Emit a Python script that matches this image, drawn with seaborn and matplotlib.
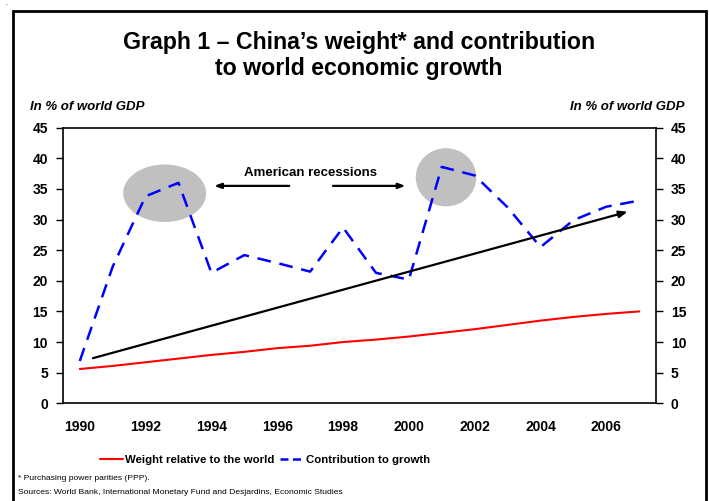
import numpy as np
import pandas as pd
import seaborn as sns
import matplotlib.pyplot as plt
from matplotlib import font_manager
from matplotlib.patches import Ellipse, Rectangle

years = list(range(1990, 2008))
weight = [5.6, 6.1, 6.7, 7.3, 7.9, 8.4, 9.0, 9.4, 10.0, 10.4, 10.9, 11.5, 12.1, 12.8, 13.5, 14.1, 14.6, 15.0]
contribution = [6.9, 22.3, 33.8, 36.0, 21.3, 24.2, 22.9, 21.5, 28.7, 21.3, 20.2, 38.6, 37.2, 32.0, 25.5, 29.9, 32.1, 33.1]
xticks = list(range(1990, 2007, 2))
yticks = list(range(0, 50, 5))

df = pd.DataFrame({"year": years, "weight": weight, "contribution": contribution})

sns.set_style("white")
names = {f.name for f in font_manager.fontManager.ttflist}
narrow = "Liberation Sans Narrow" if "Liberation Sans Narrow" in names else "Liberation Sans"
plt.rcParams["font.family"] = ["Liberation Sans", "DejaVu Sans"]
plt.rcParams.update({"text.color": "black", "xtick.color": "black",
                     "ytick.color": "black", "axes.labelcolor": "black"})

fig = plt.figure(figsize=(7.09, 5.01), dpi=100)
fig.patches.append(Rectangle((13 / 709, -0.05), (706 - 13) / 709, 1.05 - 11 / 501,
                             transform=fig.transFigure, fill=False, lw=2, ec="black"))
fig.text(5 / 709, 1 - 5 / 501, ".", fontsize=5)

ax = fig.add_axes([63.3 / 709, 1 - 403.3 / 501, (655.7 - 63.3) / 709, (403.3 - 127.7) / 501])

# recession shading
ax.add_patch(Ellipse((1992.58, 34.3), 2.52, 9.4, color="#c0c0c0", lw=0, zorder=1))
ax.add_patch(Ellipse((2001.13, 36.9), 1.84, 9.5, color="#c0c0c0", lw=0, zorder=1))

sns.lineplot(data=df, x="year", y="weight", ax=ax, color="red", lw=1.5,
             label="Weight relative to the world", zorder=3)
sns.lineplot(data=df, x="year", y="contribution", ax=ax, color="blue", lw=1.8,
             dashes=False, label="Contribution to growth", zorder=3)
ax.lines[1].set_dashes([5.5, 3.5])

# trend arrow
ax.annotate("", xy=(2006.73, 31.4), xytext=(1990.32, 7.25),
            arrowprops=dict(arrowstyle="-|>,head_length=0.5,head_width=0.2", color="black", lw=1.6),
            zorder=4)

ax.text(1997.0, 37.6, "American recessions", ha="center", va="center",
        fontsize=9.5, fontweight="bold")
ax.annotate("", xy=(1994.0, 35.5), xytext=(1996.45, 35.5),
            arrowprops=dict(arrowstyle="-|>,head_length=0.4,head_width=0.15", color="black", lw=1.6))
ax.annotate("", xy=(1999.98, 35.5), xytext=(1997.61, 35.5),
            arrowprops=dict(arrowstyle="-|>,head_length=0.4,head_width=0.15", color="black", lw=1.6))

ax.set_xlim(1989.5, 2007.5)
ax.set_ylim(0, 45)
ax.set_xticks(xticks)
ax.set_xticklabels([str(y) for y in xticks])
ax.set_yticks(yticks)
ax.set_xlabel("")
ax.set_ylabel("")
ax.tick_params(axis="x", length=0, pad=12, labelsize=10)
ax.tick_params(axis="y", length=5, width=1, direction="out", left=True, right=True,
               labelleft=True, labelright=True, labelsize=10, pad=6)
for lab in ax.get_xticklabels() + ax.get_yticklabels():
    lab.set_fontweight("bold")
for s in ax.spines.values():
    s.set_linewidth(1.2)
    s.set_color("black")

handles, labels = ax.get_legend_handles_labels()
ax.get_legend().remove()
leg = fig.legend(handles, labels, loc="center", bbox_to_anchor=(265 / 709, 1 - 460 / 501),
                 ncol=2, frameon=False, handlelength=2.0, columnspacing=0.5, handletextpad=0.2,
                 prop={"family": narrow, "weight": "bold", "size": 8.2})
leg.get_lines()[1].set_dashes([3.2, 1.8])

fig.text(359 / 709, 1 - 42 / 501, "Graph 1 \u2013 China\u2019s weight* and contribution",
         ha="center", va="center", fontsize=16.7, fontweight="bold")
fig.text(359 / 709, 1 - 69 / 501, "to world economic growth",
         ha="center", va="center", fontsize=16.7, fontweight="bold")
fig.text(30 / 709, 1 - 107 / 501, "In % of world GDP", ha="left", va="center",
         fontsize=9.5, fontweight="bold", style="italic")
fig.text(684 / 709, 1 - 107 / 501, "In % of world GDP", ha="right", va="center",
         fontsize=9.5, fontweight="bold", style="italic")
fig.text(18 / 709, 1 - 479 / 501, "* Purchasing power parities (PPP).", ha="left", va="center",
         fontsize=6.1, family=narrow)
fig.text(18 / 709, 1 - 493 / 501,
         "Sources: World Bank, International Monetary Fund and Desjardins, Economic Studies",
         ha="left", va="center", fontsize=6.1, family=narrow)

fig.savefig("out.png", dpi=100)
